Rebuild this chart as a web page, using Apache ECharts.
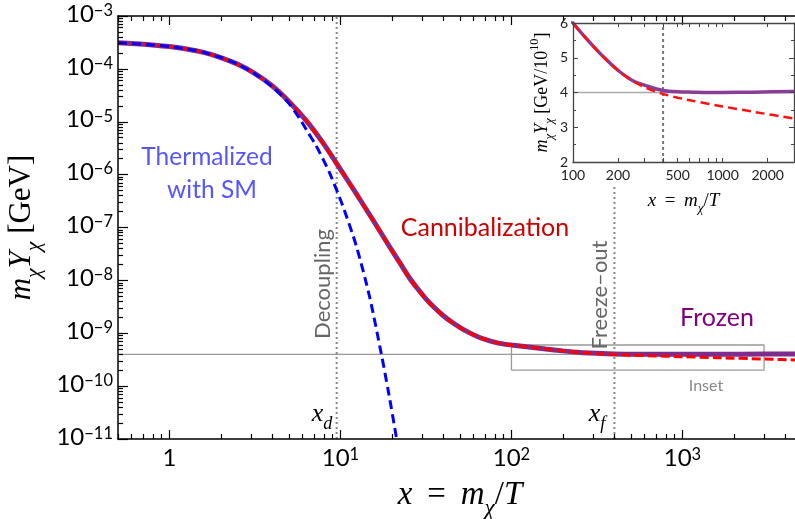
<!DOCTYPE html>
<html><head><meta charset="utf-8">
<script src="https://cdn.jsdelivr.net/npm/echarts@6/dist/echarts.min.js"></script>
<style>html,body{margin:0;padding:0;background:#fff}#c{width:795px;height:519px}</style>
</head><body><div id="c"></div>
<script>
// ---- data ----
// full solution (purple, solid)
const xFull = [0.5, 0.631, 0.794, 1, 1.259, 1.585, 1.995, 2.512, 3.162, 3.98, 5.01, 6.31, 7.94, 10, 12.59, 15.85, 19.95, 22.4, 25.1, 28.2, 31.6, 35.5, 39.8, 44.7, 50.1, 56.2, 63.1, 70.8, 79.4, 89.1, 100, 125.9, 158.5, 199.5, 251, 316, 398, 501, 631, 794, 1000, 1585, 3000, 5000];
const yFull = [3.13e-4, 3.0e-4, 2.84e-4, 2.64e-4, 2.38e-4, 2.05e-4, 1.64e-4, 1.22e-4, 8.15e-5, 4.8e-5, 2.4e-5, 1.05e-5, 3.9e-6, 1.26e-6, 3.99e-7, 1.23e-7, 3.72e-8, 2.07e-8, 1.16e-8, 7.0e-9, 4.48e-9, 3.03e-9, 2.17e-9, 1.63e-9, 1.28e-9, 1.04e-9, 8.7e-10, 7.6e-10, 6.8e-10, 6.3e-10, 6.0e-10, 5.5e-10, 5.04e-10, 4.64e-10, 4.34e-10, 4.18e-10, 4.06e-10, 4.02e-10, 4.01e-10, 4.0e-10, 4.0e-10, 4.01e-10, 4.03e-10, 4.04e-10];
// cannibalization approximation (red, dashed)
const xCann = [0.5, 0.631, 0.794, 1, 1.259, 1.585, 1.995, 2.512, 3.162, 3.98, 5.01, 6.31, 7.94, 10, 12.59, 15.85, 19.95, 22.4, 25.1, 28.2, 31.6, 35.5, 39.8, 44.7, 50.1, 56.2, 63.1, 70.8, 79.4, 89.1, 100, 125.9, 158.5, 199.5, 251, 316, 398, 501, 631, 1000, 1585, 3000, 5000];
const yCann = [3.13e-4, 3.0e-4, 2.84e-4, 2.64e-4, 2.38e-4, 2.05e-4, 1.64e-4, 1.22e-4, 8.15e-5, 4.8e-5, 2.4e-5, 1.05e-5, 3.9e-6, 1.26e-6, 3.99e-7, 1.23e-7, 3.72e-8, 2.07e-8, 1.16e-8, 7.0e-9, 4.48e-9, 3.03e-9, 2.17e-9, 1.63e-9, 1.28e-9, 1.04e-9, 8.7e-10, 7.6e-10, 6.8e-10, 6.3e-10, 6.0e-10, 5.5e-10, 5.04e-10, 4.64e-10, 4.33e-10, 4.11e-10, 3.96e-10, 3.85e-10, 3.76e-10, 3.60e-10, 3.45e-10, 3.25e-10, 3.09e-10];
// thermalized with SM (blue, dashed)
const xTherm = [0.5, 0.631, 0.794, 1, 1.259, 1.585, 1.995, 2.512, 3.162, 3.98, 4.5, 5.01, 5.76, 6.5, 7.2, 8.6, 10.3, 12.4, 14.8, 17.3, 19, 21.3, 23];
const yTherm = [3.13e-4, 3.0e-4, 2.84e-4, 2.64e-4, 2.38e-4, 2.05e-4, 1.64e-4, 1.22e-4, 8.1e-5, 4.65e-5, 3.2e-5, 2.2e-5, 1.16e-5, 6.05e-6, 3.54e-6, 1.11e-6, 2.6e-7, 4.4e-8, 4.9e-9, 4.2e-10, 8.4e-11, 1.0e-11, 2e-12];
const xDecoupling = 9.5;
const xFreezeOut = 400;
const yRelic = 4e-10;
const insetX = [100, 3000];
const insetY = [2e-10, 6e-10];
// tick labels
const xMajor = [1, 10, 100, 1000];
const yMajor = [1e-11, 1e-10, 1e-9, 1e-8, 1e-7, 1e-6, 1e-5, 1e-4, 1e-3];
const insetXLabels = [100, 200, 500, 1000, 2000];
const insetXTicks = [100, 200, 300, 400, 500, 600, 700, 800, 900, 1000, 2000, 3000];
const mantissas = [2, 3, 4, 5, 6, 7, 8, 9];

// ---- build ----
const SANS = 'Lato, "Open Sans", sans-serif';
const SERIF = '"Liberation Serif", "DejaVu Serif", serif';
const pairs = (xs, ys, k) => xs.map((x, i) => [x, ys[i] * (k || 1)]);
const insetPairs = (xs, ys) => pairs(xs, ys, 1e10).filter(p => p[0] >= 85);
const xMinor = [], yMinor = [];
[0.1, 1, 10, 100, 1000].forEach(d => mantissas.forEach(m => { const v = d * m; if (v >= 0.5 && v <= 5000) xMinor.push(v); }));
yMajor.slice(0, -1).forEach(d => mantissas.forEach(m => yMinor.push(d * m)));

const MINUS = '\u2212';
const expOf = v => Math.round(Math.log10(v));
const supRich = {
  b: { fontFamily: SANS, fontSize: 24, color: '#000', lineHeight: 28, verticalAlign: 'top' },
  s: { fontFamily: SANS, fontSize: 16.5, color: '#000', lineHeight: 15, verticalAlign: 'top' }
};
const mathRich = (fs) => ({
  i: { fontFamily: SERIF, fontStyle: 'italic', fontSize: fs, color: '#000', lineHeight: fs * 1.2 },
  r: { fontFamily: SERIF, fontSize: fs, color: '#000', lineHeight: fs * 1.2 },
  sub: { fontFamily: SERIF, fontStyle: 'italic', fontSize: fs * 0.7, color: '#000', lineHeight: fs * 1.5, verticalAlign: 'bottom' },
  sup: { fontFamily: SERIF, fontSize: fs * 0.68, color: '#000', lineHeight: fs * 0.8, verticalAlign: 'top' }
});
const XNAME = '{i|x}{r| \u2009=\u2009 }{i|m}{sub|χ}{r|/}{i|T}';

const mainAxisLine = { show: true, lineStyle: { color: '#000', width: 1.5 } };
function xAx(pos, custom, len, labels) {
  return {
    gridIndex: 0, type: 'log', min: 0.5, max: 5000, position: pos, z: 6,
    axisLine: labels !== null ? mainAxisLine : { show: false },
    axisTick: { show: true, inside: true, length: len, customValues: custom, lineStyle: { color: '#000', width: 1.2 } },
    axisLabel: labels ? labels : { show: false },
    splitLine: { show: false }, minorTick: { show: false }
  };
}
function yAx(custom, len, labels) {
  return {
    gridIndex: 0, type: 'log', min: 1e-11, max: 1e-3, position: 'left', z: 6,
    axisLine: labels !== null ? mainAxisLine : { show: false },
    axisTick: { show: true, inside: true, length: len, customValues: custom, lineStyle: { color: '#000', width: 1.2 } },
    axisLabel: labels ? labels : { show: false },
    splitLine: { show: false }
  };
}

const xMain = xAx('bottom', xMajor, 9, {
  show: true, customValues: xMajor, margin: 7,
  formatter: v => v === 1 ? '{b|1}' : '{b|10}{s|' + expOf(v) + '}', rich: supRich
});
Object.assign(xMain, {
  name: XNAME, nameLocation: 'middle', nameGap: 32,
  nameTextStyle: { rich: mathRich(33) }
});
const yMain = yAx(yMajor, 10, {
  show: true, customValues: yMajor, margin: 5,
  formatter: v => '{b|10}{s|' + MINUS + Math.abs(expOf(v)) + '}', rich: supRich
});
Object.assign(yMain, {
  name: '{i|m}{sub|χ}{i|Y}{sub|χ}{r| [GeV]}', nameLocation: 'middle', nameGap: 64, nameRotate: 90,
  nameTextStyle: { rich: mathRich(31) }
});

const insetAxisLine = { show: true, lineStyle: { color: '#444', width: 1.3 } };
function ixAx(pos, labels) {
  return {
    gridIndex: 1, type: 'log', min: 100, max: 3000, position: pos, z: 8,
    axisLine: insetAxisLine,
    axisTick: { show: true, inside: true, length: 4, customValues: insetXTicks, lineStyle: { color: '#444' } },
    axisLabel: labels ? { show: true, customValues: insetXLabels, formatter: v => String(v), margin: 6, fontFamily: SANS, fontSize: 14, color: '#222' } : { show: false },
    splitLine: { show: false }
  };
}
function iyAx(pos, labels) {
  return {
    gridIndex: 1, type: 'value', min: 2, max: 6, interval: 1, position: pos, z: 8,
    axisLine: insetAxisLine,
    axisTick: { show: true, inside: true, length: 5, lineStyle: { color: '#444' } },
    minorTick: { show: true, splitNumber: 2, length: 3, lineStyle: { color: '#444' } },
    axisLabel: labels ? { show: true, margin: 5, fontFamily: SANS, fontSize: 14, color: '#222' } : { show: false },
    splitLine: { show: false }
  };
}
const ix = ixAx('bottom', true);
Object.assign(ix, { name: XNAME, nameLocation: 'middle', nameGap: 25, nameTextStyle: { rich: mathRich(19) } });
const iy = iyAx('left', true);
Object.assign(iy, { name: '{i|m}{sub|χ}{i|Y}{sub|χ}{r| [GeV/10}{sup|10}{r|]}', nameLocation: 'middle', nameGap: 17, nameRotate: 90, nameTextStyle: { rich: mathRich(18) } });

const lineBase = { type: 'line', showSymbol: false, symbol: 'none', silent: true, animation: false };
const mainS = (o) => Object.assign({}, lineBase, { xAxisIndex: 0, yAxisIndex: 0 }, o);
const insetS = (o) => Object.assign({}, lineBase, { xAxisIndex: 4, yAxisIndex: 2, z: 7, clip: true }, o);

const option = {
  animation: false,
  backgroundColor: '#fff',
  grid: [
    { left: 118, right: -7, top: 16, bottom: 80, containLabel: false, outerBoundsMode: 'none' },
    { left: 573, top: 23, width: 221, height: 139, containLabel: false, outerBoundsMode: 'none' }
  ],
  xAxis: [xMain, xAx('bottom', xMinor, 5, null), xAx('top', xMajor, 9, false), xAx('top', xMinor, 5, null),
          ix, ixAx('top', false)],
  yAxis: [yMain, yAx(yMinor, 5, null), iy, iyAx('right', false)],
  series: [
    mainS({ data: [[0.5, yRelic], [5000, yRelic]], lineStyle: { color: '#999', width: 1.2 }, z: 1 }),
    mainS({ data: [[insetX[0], insetY[0]], [insetX[1], insetY[0]], [insetX[1], insetY[1]], [insetX[0], insetY[1]], [insetX[0], insetY[0]]], lineStyle: { color: '#999', width: 1.3 }, z: 1 }),
    mainS({ data: [[xDecoupling, 1e-11], [xDecoupling, 1e-3]], lineStyle: { color: '#888', width: 2, type: [2, 3] }, z: 1 }),
    mainS({ data: [[xFreezeOut, 1e-11], [xFreezeOut, 1e-3]], lineStyle: { color: '#888', width: 2, type: [2, 3] }, z: 1 }),
    mainS({ data: pairs(xFull, yFull), smooth: 0.25, lineStyle: { color: '#7e2c8e', width: 5 }, z: 2 }),
    mainS({ data: pairs(xCann, yCann), smooth: 0.25, lineStyle: { color: '#ff0000', width: 3, type: [9, 4] }, z: 3 }),
    mainS({ data: pairs(xTherm, yTherm), smooth: 0.25, lineStyle: { color: '#0000ff', width: 3, type: [9, 5] }, z: 4 }),
    insetS({ data: [[100, yRelic * 1e10], [3000, yRelic * 1e10]], lineStyle: { color: '#aaa', width: 1.5 } }),
    insetS({ data: [[xFreezeOut, 2], [xFreezeOut, 6]], lineStyle: { color: '#777', width: 2, type: [3, 3] } }),
    insetS({ data: insetPairs(xFull, yFull), smooth: 0.25, lineStyle: { color: '#8a3d96', width: 3.5 } }),
    insetS({ data: insetPairs(xCann, yCann), smooth: 0.25, lineStyle: { color: '#ff1010', width: 2.5, type: [9, 5] }, z: 7.5 })
  ],
  graphic: [
    { type: 'rect', z: 5, silent: true, shape: { x: 520, y: 17, width: 280, height: 168 }, style: { fill: '#fff' } },
    { type: 'text', z: 10, style: { text: 'Thermalized', x: 207, y: 157, textAlign: 'center', textVerticalAlign: 'middle', font: '24.5px ' + SANS, fill: '#5555ff' } },
    { type: 'text', z: 10, style: { text: 'with SM', x: 212, y: 190, textAlign: 'center', textVerticalAlign: 'middle', font: '24.5px ' + SANS, fill: '#5555ff' } },
    { type: 'text', z: 10, style: { text: 'Cannibalization', x: 485, y: 228, textAlign: 'center', textVerticalAlign: 'middle', font: '25px ' + SANS, fill: '#cc0000' } },
    { type: 'text', z: 10, style: { text: 'Frozen', x: 717, y: 318, textAlign: 'center', textVerticalAlign: 'middle', font: '25px ' + SANS, fill: '#800080' } },
    { type: 'text', z: 10, style: { text: 'Inset', x: 706, y: 386, textAlign: 'center', textVerticalAlign: 'middle', font: '16px ' + SANS, fill: '#888' } },
    { type: 'text', z: 10, x: 323, y: 284, rotation: Math.PI / 2, style: { text: 'Decoupling', x: 0, y: 0, textAlign: 'center', textVerticalAlign: 'middle', font: '22px ' + SANS, fill: '#666' } },
    { type: 'text', z: 10, x: 600, y: 295, rotation: Math.PI / 2, style: { text: 'Freeze\u2013out', x: 0, y: 0, textAlign: 'center', textVerticalAlign: 'middle', font: '22px ' + SANS, fill: '#666' } },
    { type: 'text', z: 10, style: { text: '{i|x}{sub|d}', x: 322, y: 414, textAlign: 'center', textVerticalAlign: 'middle', rich: mathRich(26) } },
    { type: 'text', z: 10, style: { text: '{i|x}{sub|f}', x: 597, y: 414, textAlign: 'center', textVerticalAlign: 'middle', rich: mathRich(26) } }
  ]
};
const chart = echarts.init(document.getElementById('c'), null, { renderer: 'canvas' });
chart.setOption(option);
</script>
</body></html>
